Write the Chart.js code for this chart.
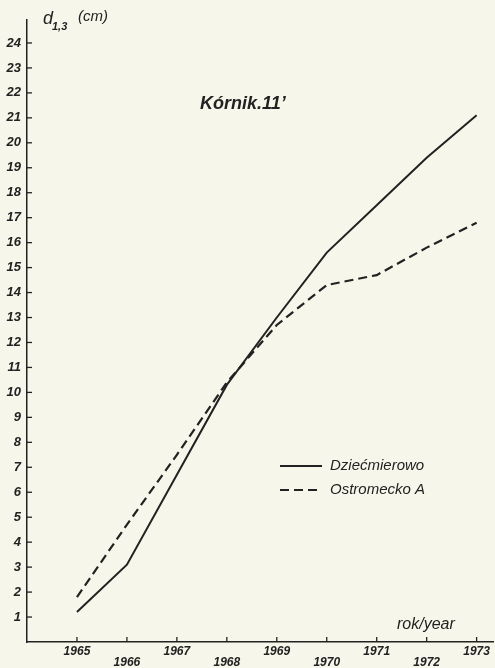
<!DOCTYPE html>
<html>
<head>
<meta charset="utf-8">
<script src="https://cdn.jsdelivr.net/npm/chart.js@4/dist/chart.umd.min.js"></script>
<style>
  html, body { margin: 0; padding: 0; background: #f7f6ea; }
  #wrap { width: 495px; height: 668px; }
</style>
</head>
<body>
<div id="wrap"><canvas id="c" width="495" height="668"></canvas></div>
<script>
// ---- data ----
const years = [1965, 1966, 1967, 1968, 1969, 1970, 1971, 1972, 1973];
const xTickLabels = ['1965', '1966', '1967', '1968', '1969', '1970', '1971', '1972', '1973'];
const dziecmierowo = [1.2, 3.1, 6.7, 10.3, 13.0, 15.6, 17.5, 19.4, 21.1];
const ostromecko = [1.8, 4.7, 7.5, 10.4, 12.7, 14.3, 14.7, 15.8, 16.8];
const yTicks = [1, 2, 3, 4, 5, 6, 7, 8, 9, 10, 11, 12, 13, 14, 15, 16, 17, 18, 19, 20, 21, 22, 23, 24];
const seriesNames = ['Dziećmierowo', 'Ostromecko A'];
const chartTitle = 'Kórnik.11\u2019';
const xTitle = 'rok/year';

const ink = '#222222';
const fam = '"Liberation Sans", "DejaVu Sans", sans-serif';

const decor = {
  id: 'decor',
  afterDraw(chart) {
    const ctx = chart.ctx;
    const xs = chart.scales.x, ys = chart.scales.y;
    const area = chart.chartArea;
    ctx.save();
    ctx.strokeStyle = ink;
    ctx.lineWidth = 1.3;
    // inward tick marks on y axis
    yTicks.forEach(v => {
      const py = ys.getPixelForValue(v);
      ctx.beginPath(); ctx.moveTo(area.left, py); ctx.lineTo(area.left + 5, py); ctx.stroke();
    });
    // upward tick marks on x axis
    years.forEach(v => {
      const px = xs.getPixelForValue(v);
      ctx.beginPath(); ctx.moveTo(px, area.bottom); ctx.lineTo(px, area.bottom - 5); ctx.stroke();
    });
    ctx.fillStyle = ink;
    // y axis title d1,3 (cm)
    ctx.textBaseline = 'alphabetic';
    ctx.textAlign = 'left';
    ctx.font = 'italic 18px ' + fam;
    ctx.fillText('d', 43, 24);
    ctx.font = 'bold italic 11px ' + fam;
    ctx.fillText('1,3', 52, 30);
    ctx.font = 'italic 15px ' + fam;
    ctx.fillText('(cm)', 78, 21);
    // chart title
    ctx.font = 'bold italic 18px ' + fam;
    ctx.textBaseline = 'middle';
    ctx.fillText(chartTitle, 200, 104);
    // x axis title
    ctx.font = 'italic 16px ' + fam;
    ctx.fillText(xTitle, 397, 625);
    // legend
    const ds = chart.data.datasets;
    const ly = [466, 490];
    ds.forEach((d, i) => {
      ctx.beginPath();
      ctx.lineWidth = 2;
      ctx.setLineDash(d.borderDash || []);
      ctx.moveTo(280, ly[i]); ctx.lineTo(322, ly[i]);
      ctx.stroke();
      ctx.setLineDash([]);
      ctx.font = 'italic 15px ' + fam;
      ctx.fillText(seriesNames[i], 330, ly[i]);
    });
    ctx.restore();
  }
};

new Chart(document.getElementById('c'), {
  type: 'line',
  data: {
    datasets: [
      {
        label: seriesNames[0],
        data: years.map((y, i) => ({ x: y, y: dziecmierowo[i] })),
        borderColor: ink, borderWidth: 2, pointRadius: 0, tension: 0, fill: false
      },
      {
        label: seriesNames[1],
        data: years.map((y, i) => ({ x: y, y: ostromecko[i] })),
        borderColor: ink, borderWidth: 2.2, borderDash: [9, 5], pointRadius: 0, tension: 0, fill: false
      }
    ]
  },
  options: {
    responsive: false,
    animation: false,
    devicePixelRatio: 1,
    layout: { padding: { top: 20, right: 1, left: 0, bottom: 0 } },
    plugins: { legend: { display: false }, tooltip: { enabled: false } },
    scales: {
      x: {
        type: 'linear', min: 1964, max: 1973.34,
        afterBuildTicks: s => { s.ticks = years.map(v => ({ value: v })); },
        afterFit: s => { s.height = 26; },
        grid: { display: false, drawTicks: false, tickLength: 0 },
        border: { display: true, color: ink, width: 1.5 },
        ticks: {
          padding: 5, color: ink, autoSkip: false, maxRotation: 0, minRotation: 0,
          font: { family: fam, size: 12, style: 'italic', weight: 'bold', lineHeight: 0.85 },
          callback: v => {
            const i = years.indexOf(v);
            if (i < 0) return '';
            return i % 2 === 0 ? [xTickLabels[i]] : ['', xTickLabels[i]];
          }
        }
      },
      y: {
        type: 'linear', min: 0, max: 24.92,
        afterBuildTicks: s => { s.ticks = yTicks.map(v => ({ value: v })); },
        afterFit: s => { s.width = 27; },
        grid: { display: false, drawTicks: false, tickLength: 0 },
        border: { display: true, color: ink, width: 1.5 },
        ticks: {
          padding: 6, color: ink,
          font: { family: fam, size: 13, style: 'italic', weight: 'bold' }
        }
      }
    }
  },
  plugins: [decor]
});
</script>
</body>
</html>
